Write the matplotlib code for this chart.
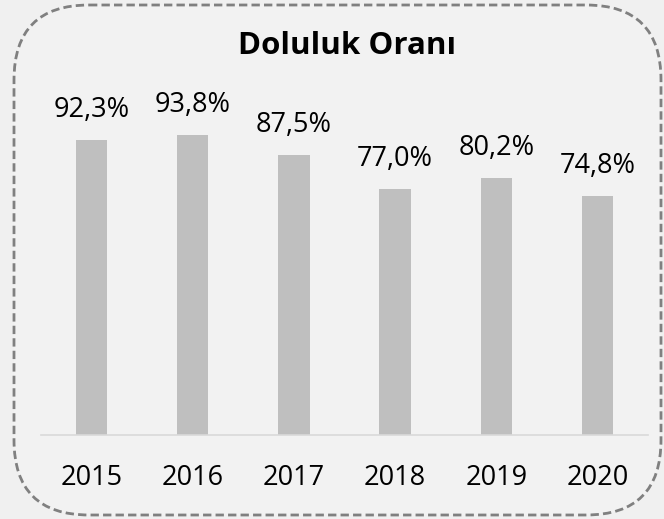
import matplotlib.pyplot as plt
from matplotlib.patches import FancyBboxPatch

years = ["2015", "2016", "2017", "2018", "2019", "2020"]
occupancy = [92.3, 93.8, 87.5, 77.0, 80.2, 74.8]
labels = ["92,3%", "93,8%", "87,5%", "77,0%", "80,2%", "74,8%"]

plt.rcParams['font.family'] = ['Open Sans', 'DejaVu Sans']

fig = plt.figure(figsize=(6.64, 5.19), dpi=100)
fig.patch.set_facecolor('#f0f0f0')

# background frame in pixel coordinates
bg = fig.add_axes([0, 0, 1, 1])
bg.set_xlim(0, 664)
bg.set_ylim(519, 0)
bg.axis('off')
bg.add_patch(FancyBboxPatch((14, 5), 647, 510,
                            boxstyle="round,pad=0,rounding_size=75",
                            facecolor='#f2f2f2', edgecolor='#808080',
                            linewidth=2, linestyle=(0, (3, 1.5))))

ax = fig.add_axes([0.0617, 0.1618, 0.9143, 0.6164])
ax.set_facecolor('none')
x = range(len(years))
ax.bar(x, occupancy, width=0.31, color='#bfbfbf', zorder=2)
for i, (v, lab) in enumerate(zip(occupancy, labels)):
    ax.text(i, v + 7.2, lab, ha='center', va='baseline', fontsize=19.5,
            color='black')

ax.set_xlim(-0.5, len(years) - 0.5)
ax.set_ylim(0, 100)
ax.set_xticks(list(x))
ax.set_xticklabels(years, fontsize=19.5)
ax.tick_params(axis='x', length=0, pad=21)
ax.set_yticks([])
for s in ['top', 'right', 'left']:
    ax.spines[s].set_visible(False)
ax.spines['bottom'].set_color('#d9d9d9')
ax.spines['bottom'].set_linewidth(1.2)

fig.text(347 / 664, 1 - 54 / 519, "Doluluk Oranı", ha='center', va='baseline',
         fontsize=22.5, fontweight='bold')

fig.savefig('out.png', dpi=100, facecolor=fig.get_facecolor())
